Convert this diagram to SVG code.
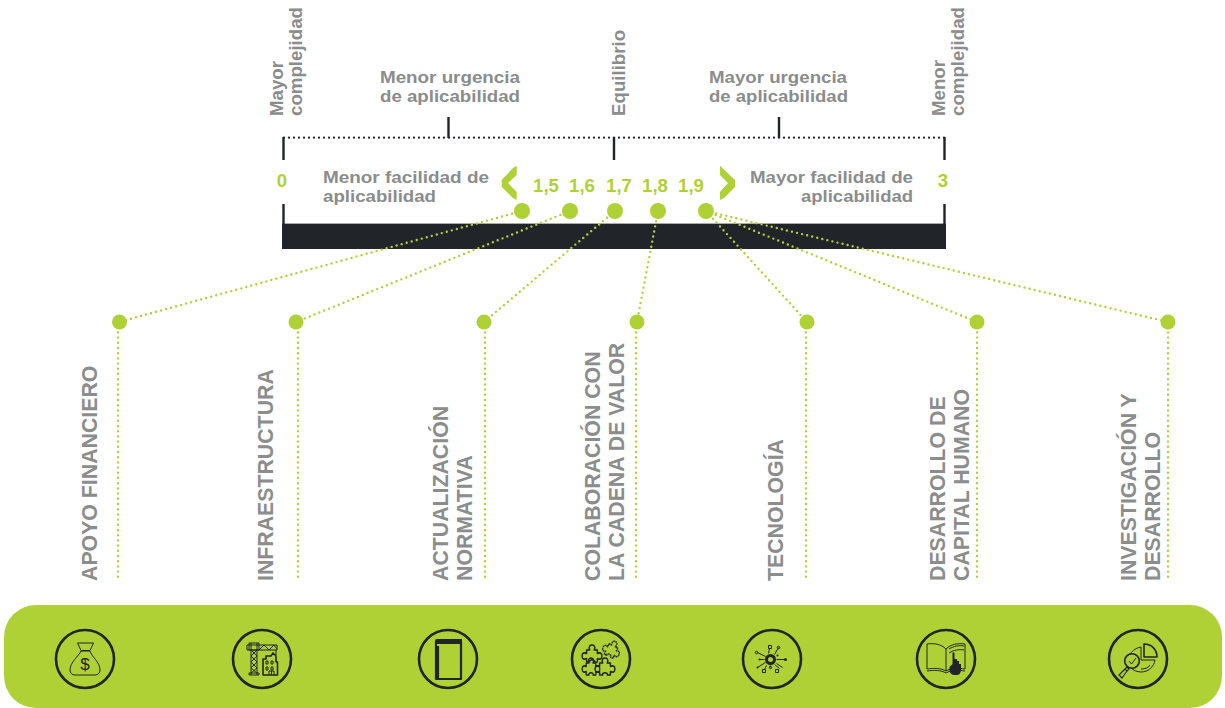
<svg xmlns="http://www.w3.org/2000/svg" width="1225" height="708" viewBox="0 0 1225 708">
<style>
text{font-family:"Liberation Sans",Arial,sans-serif;font-weight:700;fill:#8a8d8c}
.s{font-size:18.7px}
.h{font-size:16.4px}
.l{font-size:21.3px}
.g{fill:#afd136;font-size:18.6px}
.m{text-anchor:middle}
.e{text-anchor:end}
.tick{stroke:#212529;stroke-width:2.4;fill:none}
.dk{stroke:#212529;stroke-width:2.3;stroke-linecap:round;stroke-dasharray:0 5;fill:none}
.dg{stroke:#afd136;stroke-width:2.4;stroke-linecap:round;stroke-dasharray:0 5.2;fill:none}
.dot{fill:#afd136}
.ring{fill:none;stroke:#212529;stroke-width:2.6}
.i{fill:none;stroke:#212529;stroke-width:1;stroke-linejoin:round}
.i2{fill:none;stroke:#212529;stroke-width:1.6;stroke-linejoin:round}
.f{fill:#212529}
</style>
<defs>
<path id="piece" d="M-6-6H-2.500C-4.500-10-1.500-11 0-11C1.500-11 4.500-10 2.500-6H6V-2.500C10-4.500 11-1.500 11 0C11 1.500 10 4.500 6 2.500V6H2.500C4.500 3-4.500 3-2.500 6H-6V2.500C-10 4.500-11 1.500-11 0C-11-1.500-10-4.500-6-2.500Z"/>
</defs>
<g id="scale">
<rect x="282" y="224" width="664" height="25" fill="#212529"/>
<path d="M282 223.500H946" stroke="#a9abab" stroke-width="1"/>
<path class="dk" d="M284 137.700H946"/>
<path class="tick" d="M283.500 137V160M283.500 204V224M448.500 117V138M614 137V160M779 117V138M944.500 137V160M944.500 204V224"/>
<polygon class="dot" points="516.700,165.700 516.700,175 508,183 516.700,192 516.700,200 513,198 501.700,187 501.700,180 513,168"/>
<polygon class="dot" points="720,165.700 735,180 735,187 724,198 720,200 720,192 728,183 720,175"/>
</g>
<g id="scale-labels">
<text class="s" transform="translate(283,116) rotate(-90)">Mayor</text>
<text class="s" transform="translate(302,116) rotate(-90)">complejidad</text>
<text class="h" x="380" y="83" textLength="140" lengthAdjust="spacingAndGlyphs">Menor urgencia</text>
<text class="h" x="380" y="102" textLength="140" lengthAdjust="spacingAndGlyphs">de aplicabilidad</text>
<text class="s" transform="translate(625,116) rotate(-90)">Equilibrio</text>
<text class="h" x="709" y="83" textLength="138" lengthAdjust="spacingAndGlyphs">Mayor urgencia</text>
<text class="h" x="709" y="102" textLength="139" lengthAdjust="spacingAndGlyphs">de aplicabilidad</text>
<text class="s" transform="translate(945,116) rotate(-90)">Menor</text>
<text class="s" transform="translate(964,116) rotate(-90)">complejidad</text>
<text class="h" x="323" y="182.500" textLength="166" lengthAdjust="spacingAndGlyphs">Menor facilidad de</text>
<text class="h" x="323" y="201.500" textLength="113" lengthAdjust="spacingAndGlyphs">aplicabilidad</text>
<text class="h" x="750" y="182.500" textLength="163" lengthAdjust="spacingAndGlyphs">Mayor facilidad de</text>
<text class="h" x="801" y="201.500" textLength="112" lengthAdjust="spacingAndGlyphs">aplicabilidad</text>
<text class="g m" x="282" y="187">0</text>
<text class="g m" x="546" y="192">1,5</text>
<text class="g m" x="582" y="192">1,6</text>
<text class="g m" x="619" y="192">1,7</text>
<text class="g m" x="655" y="192">1,8</text>
<text class="g m" x="691" y="192">1,9</text>
<text class="g m" x="943" y="187">3</text>
</g>
<g id="connectors">
<path class="dg" d="M522 211L119 322"/>
<path class="dg" d="M570 211L296 322"/>
<path class="dg" d="M615 211L484 322"/>
<path class="dg" d="M658 211L637 322"/>
<path class="dg" d="M706 211L807 322"/>
<path class="dg" d="M706 211L977 322"/>
<path class="dg" d="M706 211L1168 322"/>
<path class="dg" d="M118 322V581M298 322V581M485 322V581M636 322V581M806 322V581M977 322V581M1168 322V581"/>
</g>
<g id="points">
<circle class="dot" cx="522" cy="211" r="8"/><circle class="dot" cx="570" cy="211" r="8"/><circle class="dot" cx="615" cy="211" r="8"/><circle class="dot" cx="658" cy="211" r="8"/><circle class="dot" cx="706" cy="211" r="8"/>
<circle class="dot" cx="119.500" cy="322" r="7.500"/><circle class="dot" cx="296" cy="322" r="7.500"/><circle class="dot" cx="484" cy="322" r="7.500"/><circle class="dot" cx="637" cy="322" r="7.500"/><circle class="dot" cx="807" cy="322" r="7.500"/><circle class="dot" cx="977" cy="322" r="7.500"/><circle class="dot" cx="1168" cy="322" r="7.500"/>
</g>
<g id="node-apoyo"><text class="l" transform="translate(97,581) rotate(-90)">APOYO FINANCIERO</text></g>
<g id="node-infra"><text class="l" transform="translate(273,581) rotate(-90)">INFRAESTRUCTURA</text></g>
<g id="node-actual"><text class="l" transform="translate(448,581) rotate(-90)">ACTUALIZACIÓN</text><text class="l" transform="translate(472,581) rotate(-90)">NORMATIVA</text></g>
<g id="node-colab"><text class="l" transform="translate(600,581) rotate(-90)">COLABORACIÓN CON</text><text class="l" transform="translate(624,581) rotate(-90)">LA CADENA DE VALOR</text></g>
<g id="node-tecno"><text class="l" transform="translate(783,581) rotate(-90)">TECNOLOGÍA</text></g>
<g id="node-desarrollo"><text class="l" transform="translate(945,581) rotate(-90)">DESARROLLO DE</text><text class="l" transform="translate(969,581) rotate(-90)">CAPITAL HUMANO</text></g>
<g id="node-inv"><text class="l" transform="translate(1136,581) rotate(-90)">INVESTIGACIÓN Y</text><text class="l" transform="translate(1160,581) rotate(-90)">DESARROLLO</text></g>
<rect id="band" x="4" y="605" width="1218" height="103" rx="32" fill="#afd136"/>
<g id="icon-bag" transform="translate(85,659)">
<circle class="ring" r="29"/>
<path class="i" d="M-7.500-16H8.500L5-8.500H-4Z"/>
<path class="i" d="M-4-8C-6-3-15 3-15 11C-15 14-13 16-10 16H10C13 16 15 14 15 11C15 3 6-3 5-8Z"/>
<text x="0" y="10.500" text-anchor="middle" style="font-size:17px;font-weight:400;fill:#212529">$</text>
</g>
<g id="icon-crane" transform="translate(262,659)">
<circle class="ring" r="29"/>
<path class="i" d="M-11-16V16M-5-16V16M-11-9L-5-3L-11 3L-5 9L-11 14M-5-9L-11-3L-5 3L-11 9L-5 14M-13 14H-3V16H-13ZM-15-9H15V-14H-15ZM-13-16H-3V-9H-13ZM-3-9L2-14L7-9L12-14L15-10M14-9V-4"/>
<path class="i2" d="M1 16V0H4V-3H9L11-6L14-3V3H15.500V16Z"/>
<path class="i" d="M4 2h2v3h-2zM9 2h2v3h-2zM4 8h2v3h-2zM9 8h2v3h-2zM7 16v-4h5v4M9.500 12v4"/>
</g>
<g id="icon-book" transform="translate(448,659)">
<circle class="ring" r="29"/>
<path class="f" d="M-11-20H14V-15H-13V-18Q-13-20-11-20Z"/>
<path class="i2" style="stroke-width:2.200" d="M-12-18V20H13V-18M-10-13V19"/>
</g>
<g id="icon-puzzle" transform="translate(601,659)">
<circle class="ring" r="29"/>
<g class="i2">
<use href="#piece" transform="translate(-9,-3) scale(.9,1)"/>
<use href="#piece" transform="translate(-10,10) scale(.8,1)"/>
<use href="#piece" transform="translate(4,10) scale(.9,1)"/>
<use href="#piece" transform="translate(10,-8) rotate(25) scale(.8,.95)" stroke-dasharray="2 .6"/>
</g>
</g>
<g id="icon-tech" transform="translate(772,659)">
<circle class="ring" r="29"/>
<g transform="translate(-1.500,.5)">
<circle r="4" style="fill:none;stroke:#212529;stroke-width:3"/>
<path class="i" d="M6 0H15M-6 0H-11M-5-3L-13-7M-5 3L-13 8M-2-6L-1-11M4-5L8-12M4 5L9 9M6 4L12 8M-4 6L-6 10M0 6V8"/>
<circle class="f" cx="15" cy="0" r="1.500"/><circle class="f" cx="-11" cy="0" r="1"/><circle class="f" cx="-13" cy="8" r="1"/><circle class="f" cx="7" cy="-4" r="1"/>
<circle class="i" cx="-14" cy="-7" r="1.300"/><circle class="i" cx="8" cy="-12" r="1.300"/><circle class="i" cx="0" cy="8" r="1.200"/>
<rect class="i" x="-2" y="-14" width="3" height="3"/><rect class="i" x="-8" y="10" width="3" height="3"/><rect class="i" x="5" y="10" width="3" height="3"/>
</g>
</g>
<g id="icon-manual" transform="translate(946,659)">
<circle class="ring" r="29"/>
<path class="i" d="M0-10C-5-15-12-16-19-15V10C-12 9-5 9 0 12C5 9 12 9 19 10V-15C12-16 5-15 0-10ZM0-10V12M-19 12C-12 11-5 11 0 14C5 11 12 11 19 12M3-10C8-13 13-14 18-13M3-6C8-9 13-10 18-9"/>
<path class="f" d="M6.500 5V-6C7-7 8-7 8.500-6V0H11V2H13V5H15V11C15 14 13 16 11 16H8C5 16 3 13 3.500 8Z"/>
</g>
<g id="icon-research" transform="translate(1138,659)">
<circle class="ring" r="29"/>
<path class="i2" d="M6-15V-2H19C19-9 14-15 6-15Z"/>
<path class="i" d="M3-12V1H17C16 8 10 13 3 13C-1 13-5 11-7 9M3-12C-3-11-7-7-8-4"/>
<path class="i" d="M3 10C7 10 10 9 12 6"/>
<circle class="i2" cx="-6" cy="2" r="7.300"/>
<path class="i" d="M-9 2L-6.500 5L-2-1"/>
<path class="i2" d="M-11 8L-13 10L-11 12L-9 10ZM-13 10L-19 16L-16 19L-11 12" style="stroke-width:1.200"/>
</g>
</svg>
